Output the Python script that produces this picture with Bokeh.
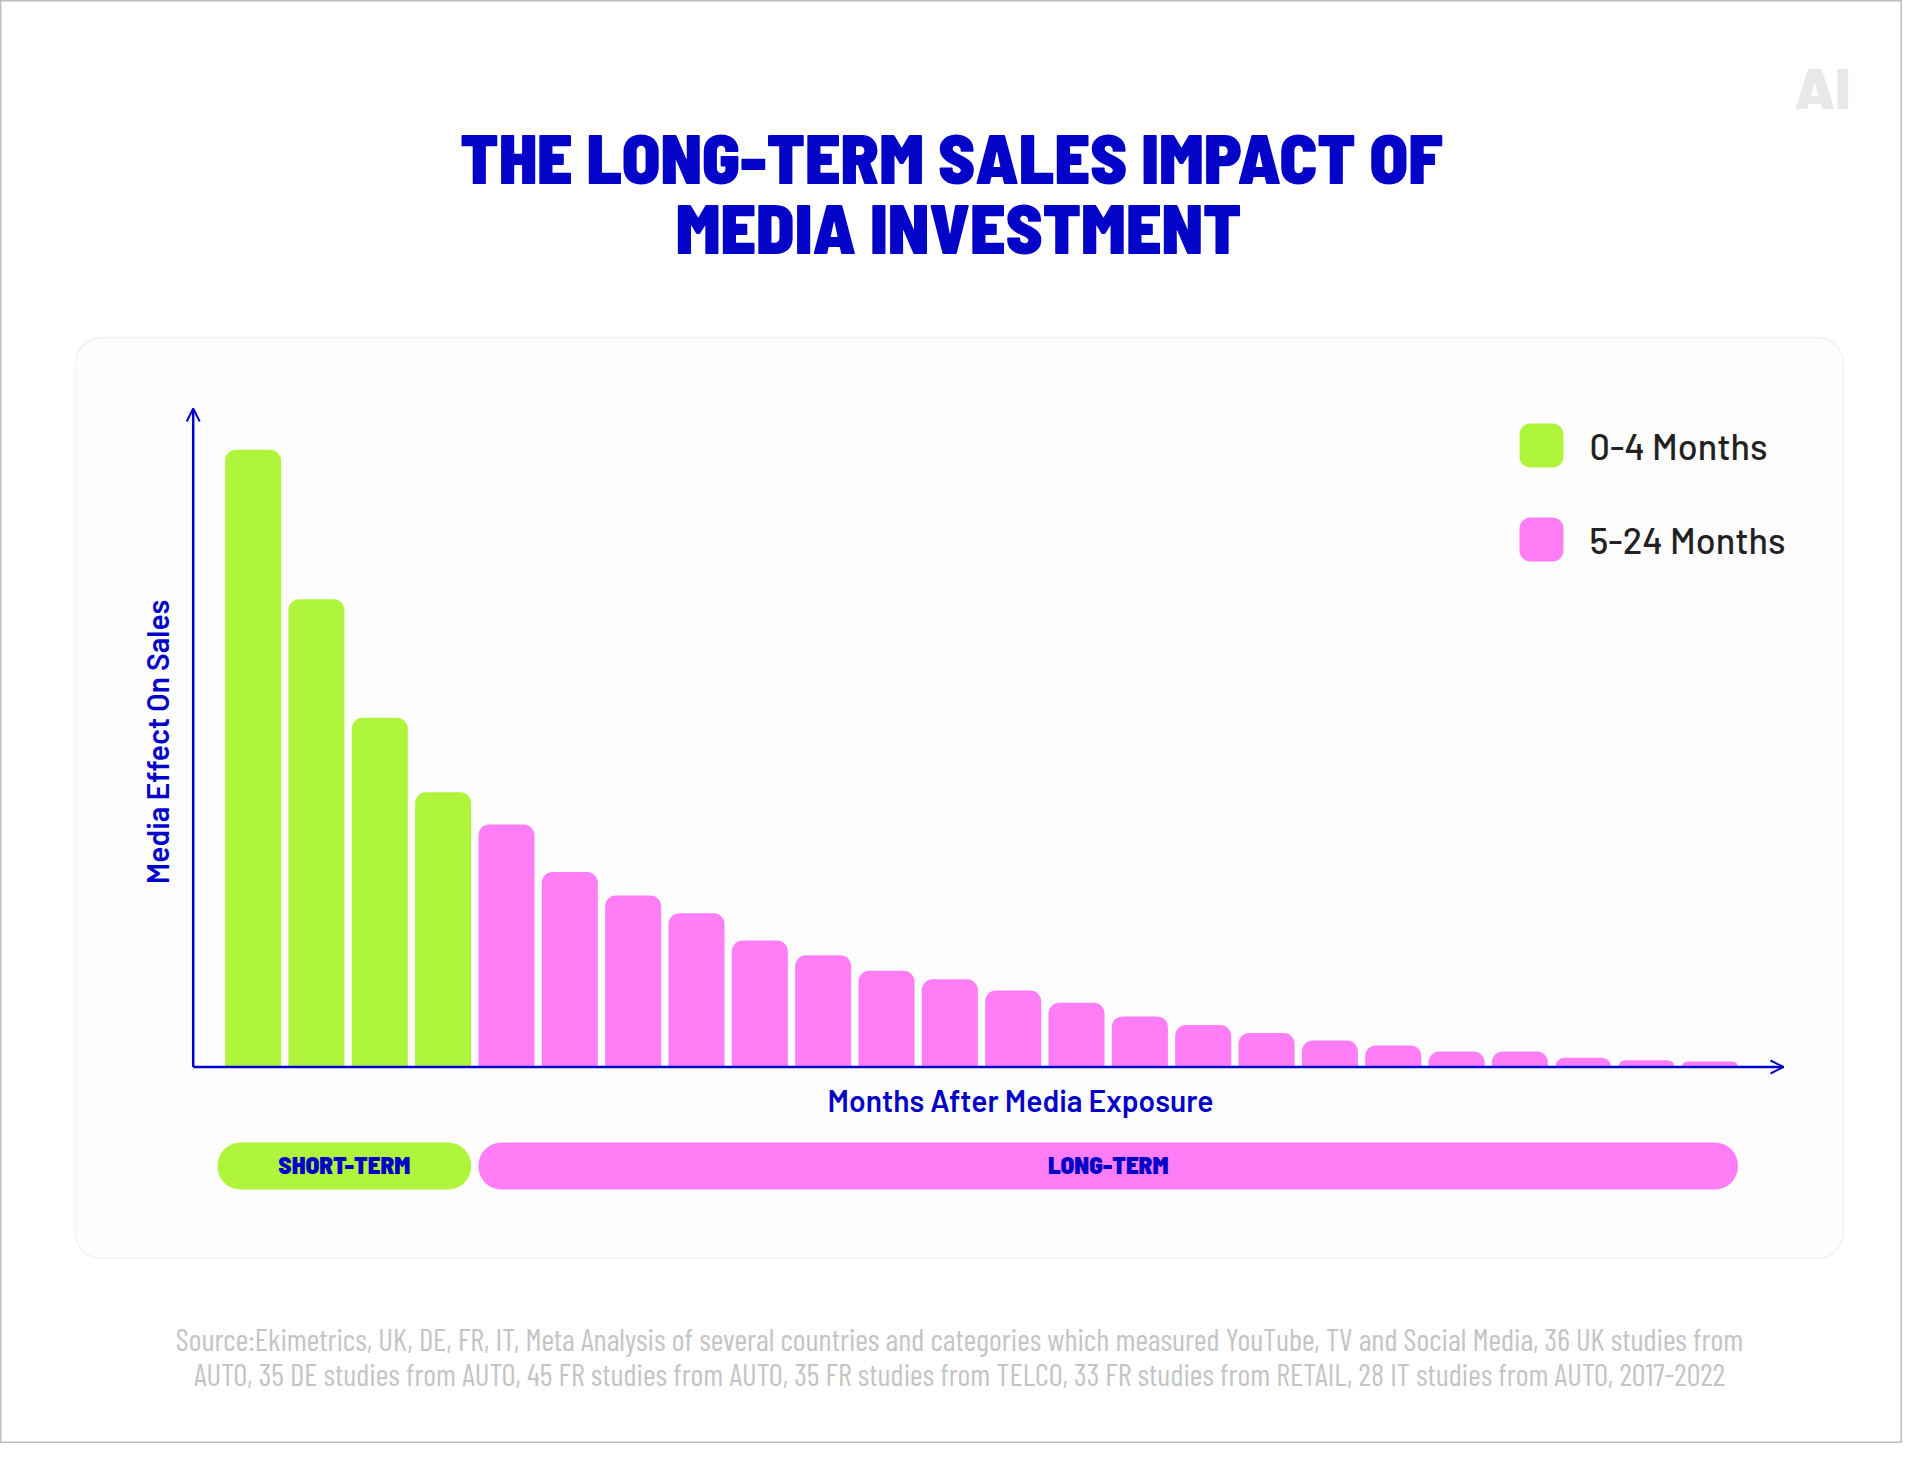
from bokeh.embed import file_html
from bokeh.models import (Arrow, BoxAnnotation, ColumnDataSource, FixedTicker, Label,
                          LinearAxis, OpenHead, Range1d)
from bokeh.plotting import figure
from bokeh.resources import INLINE

# ---- data ----
MONTHS = list(range(1, 25))
MEDIA_EFFECT = [100, 75.8, 56.6, 44.5, 39.3, 31.6, 27.8, 24.9, 20.5, 18.1, 15.6, 14.2,
                12.4, 10.4, 8.2, 6.8, 5.5, 4.3, 3.5, 2.5, 2.5, 1.5, 1.1, 0.9]
SHORT_TERM_MONTHS = MONTHS[:4]
LONG_TERM_MONTHS = MONTHS[4:]
SERIES_LABELS = ["0-4 Months", "5-24 Months"]
PHASE_LABELS = ["SHORT-TERM", "LONG-TERM"]
TITLE_LINES = ["THE LONG-TERM SALES IMPACT OF", "MEDIA INVESTMENT"]
SOURCE_LINES = [
    "Source:Ekimetrics, UK, DE, FR, IT, Meta Analysis of several countries and categories which measured YouTube, TV and Social Media, 36 UK studies from",
    "AUTO, 35 DE studies from AUTO, 45 FR studies from AUTO, 35 FR studies from TELCO, 33 FR studies from RETAIL, 28 IT studies from AUTO, 2017-2022",
]
X_AXIS_TITLE = "Months After Media Exposure"
Y_AXIS_TITLE = "Media Effect On Sales"

# ---- style ----
GREEN, PINK, BLUE = "#AFF53C", "#FF7DF5", "#0404C8"
W, H = 1902, 1443
OFF = 0
PITCH = 63.34      # px per month
X1 = 252.6         # px of month 1 centre
Y0 = 1066.5        # px of value 0
PX_PER_UNIT = 6.172


def dx(px):
    return 1 + (px - X1) / PITCH


def dy(py):
    return (Y0 - py) / PX_PER_UNIT


p = figure(width=W, height=H, output_backend="svg", toolbar_location=None,
           x_range=Range1d(dx(OFF), dx(OFF + W)), y_range=Range1d(dy(OFF + H), dy(OFF)),
           x_axis_type=None, y_axis_type=None, min_border=0,
           background_fill_color="white", border_fill_color="white",
           outline_line_color="#BEBEBE", outline_line_width=2)
p.grid.visible = False

# panel
p.add_layout(BoxAnnotation(left=dx(75), right=dx(1843), top=dy(337), bottom=dy(1258),
                           fill_color="#FDFDFD", fill_alpha=1, line_color="#DCDCDC", line_width=1.5,
                           border_radius=26, level="underlay"))

# bars
WIDTH = 0.885
colors = [GREEN if m in SHORT_TERM_MONTHS else PINK for m in MONTHS]
src = ColumnDataSource(dict(x=MONTHS, top=MEDIA_EFFECT, color=colors))
p.vbar(x="x", top="top", bottom=0, width=WIDTH, color="color", source=src,
       line_color=None, border_radius=(11, 11, 0, 0))

# axes (real axes carrying titles; the lines with arrowheads drawn on top)
common = dict(ticker=FixedTicker(ticks=[]), axis_line_color=None, major_tick_line_color=None,
              minor_tick_line_color=None, major_label_text_font_size="0px",
              axis_label_text_color=BLUE, axis_label_text_font="Barlow SemiBold",
              axis_label_text_font_style="normal", axis_label_text_font_size="30px")
xax = LinearAxis(fixed_location=0, axis_label=X_AXIS_TITLE, bounds=(dx(193), dx(1847)),
                 axis_label_standoff=14, **common)
yax = LinearAxis(fixed_location=dx(193), axis_label=Y_AXIS_TITLE, bounds=(dy(1074.6), dy(408)),
                 axis_label_standoff=19, **common)
p.add_layout(xax, "below")
p.add_layout(yax, "left")

origin_x = dx(192.7)
p.add_layout(Arrow(end=OpenHead(size=13, line_color=BLUE, line_width=2),
                   x_start=origin_x, y_start=0, x_end=origin_x, y_end=dy(408),
                   line_color=BLUE, line_width=2.5))
p.add_layout(Arrow(end=OpenHead(size=13, line_color=BLUE, line_width=2),
                   x_start=origin_x, y_start=0, x_end=dx(1783), y_end=0,
                   line_color=BLUE, line_width=2.5))

# phase pills
for months, color, text, extra in [(SHORT_TERM_MONTHS, GREEN, PHASE_LABELS[0], 0.12),
                                   (LONG_TERM_MONTHS, PINK, PHASE_LABELS[1], 0.0)]:
    left, right = months[0] - WIDTH / 2 - extra, months[-1] + WIDTH / 2
    p.quad(left=[left], right=[right], top=[dy(1142)], bottom=[dy(1189)], color=color,
           line_color=None, border_radius=23)
    p.add_layout(Label(x=(left + right) / 2, y=dy(1163.5), text=text, text_align="center",
                       text_baseline="middle", text_color=BLUE,
                       text_font="Barlow Semi Condensed Black", text_font_size="25px"))

# legend
for i, (label, color) in enumerate(zip(SERIES_LABELS, [GREEN, PINK])):
    top = 423 + i * 94
    p.add_layout(BoxAnnotation(left=dx(1519), right=dx(1563), top=dy(top), bottom=dy(top + 44),
                               fill_color=color, fill_alpha=1, line_color=None, border_radius=11))
    p.add_layout(Label(x=dx(1589), y=dy(444.5 + i * 94), text=label, text_align="left",
                       text_baseline="middle", text_color="#222222", text_font="Barlow Medium",
                       text_font_size="36px"))

# title
for line, cx, cy in zip(TITLE_LINES, [951, 958], [155, 225]):
    p.add_layout(Label(x=dx(cx), y=dy(cy), text=line, text_align="center",
                       text_baseline="middle", text_color=BLUE,
                       text_font="Barlow Semi Condensed Black", text_font_size="70px"))

# source
for i, line in enumerate(SOURCE_LINES):
    p.add_layout(Label(x=dx(959), y=dy(1337.5 + i * 35), text=line, text_align="center",
                       text_baseline="middle", text_color="#C4C4C4",
                       text_font="Barlow Condensed", text_font_size="30.8px"))

# logo
p.add_layout(Label(x=dx(1822), y=dy(85), text="AI", text_align="center", text_baseline="middle",
                   text_color="#E8E8E8", text_font="Barlow Black", text_font_size="57px"))

open("out.html", "w").write(file_html(p, INLINE))
